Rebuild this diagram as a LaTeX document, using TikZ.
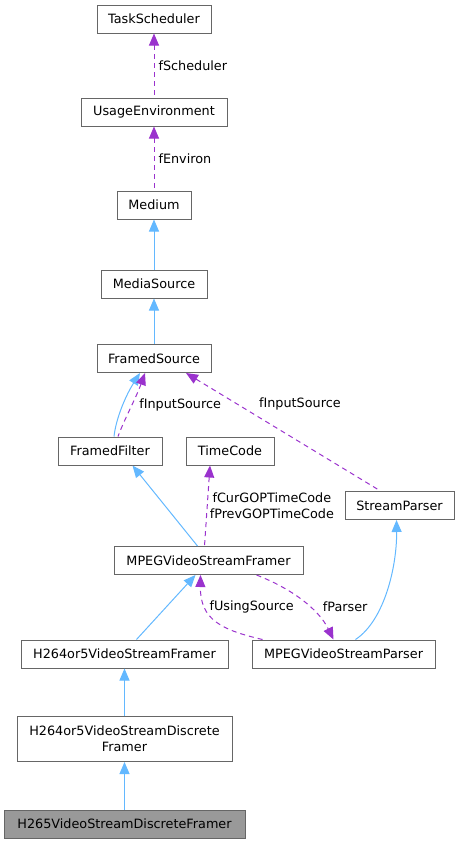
\documentclass[tikz,border=0pt]{standalone}
\usepackage{fontspec}
\setmainfont{DejaVu Sans}
\usetikzlibrary{arrows.meta}
\definecolor{boxline}{HTML}{666666}
\definecolor{basefill}{HTML}{999999}
\definecolor{inhblue}{HTML}{63B8FF}
\definecolor{refpurple}{HTML}{9A32CD}
\begin{document}
\begin{tikzpicture}[x=1pt,y=-1pt,
	font=\fontsize{12.8}{16}\selectfont,
	cls/.style={draw=boxline,fill=white,line width=1pt,minimum height=28pt,inner sep=0pt},
	basecls/.style={cls,fill=basefill},
	bluearr/.style={{Triangle[length=12pt,width=10pt]}-,line width=1pt,inhblue},
	refarr/.style={line width=1pt,refpurple,dash pattern=on 5pt off 4pt},
	reflbl/.style={text=black,inner sep=1pt}]
				%\draw [help lines] (0,0) grid (459,844);
				\useasboundingbox (0,0) rectangle (459,844);
				\node[cls,minimum width=114] (tasksch) at (154,19) {TaskScheduler};
				\node[cls,minimum width=146] (usageenv) at (154,112) {UsageEnvironment};
				\node[cls,minimum width=74] (medium) at (154,205) {Medium};
				\node[cls,minimum width=106] (mediasrc) at (154,284) {MediaSource};
				\node[cls,minimum width=114] (framedsrc) at (154,358.5) {FramedSource};
				\node[cls,minimum width=104] (ffilter) at (110,451) {FramedFilter};
				\node[cls,minimum width=88] (timecode) at (230,451) {TimeCode};
				\node[cls,minimum width=109] (sparser) at (399.5,505.5) {StreamParser};
				\node[cls,minimum width=189] (mpegframer) at (208.5,560.5) {MPEGVideoStreamFramer};
				\node[cls,minimum width=207] (h264framer) at (124.5,654) {H264or5VideoStreamFramer};
				\node[cls,minimum width=183] (mpegparser) at (343.5,654) {MPEGVideoStreamParser};
				\node[cls,minimum width=215,minimum height=45,align=center] (h264disc) at (124.5,739) {H264or5VideoStreamDiscrete\\Framer};
				\node[basecls,minimum width=241] (h265disc) at (124.5,824) {H265VideoStreamDiscreteFramer};
				% references
				\draw[refarr,{Triangle[length=12pt,width=10pt]}-] (tasksch) -- node[reflbl,anchor=west,pos=0.5,xshift=3pt]{fScheduler} (usageenv);
				\draw[refarr,{Triangle[length=12pt,width=10pt]}-] (usageenv) -- node[reflbl,anchor=west,pos=0.5,xshift=3pt]{fEnviron} (medium);
				% inheritance
				\draw[bluearr] (medium) -- (mediasrc);
				\draw[bluearr] (mediasrc) -- (framedsrc);
				\draw[bluearr] ([xshift=-14pt]framedsrc.south) .. controls (126,395) and (116,418) .. ([xshift=4pt]ffilter.north);
				\draw[refarr,{Triangle[length=12pt,width=10pt]}-] ([xshift=-9pt]framedsrc.south) .. controls (136,398) and (124,420) .. ([xshift=8pt]ffilter.north) node[reflbl,pos=0.45,anchor=west,xshift=6pt]{fInputSource};
				\draw[refarr,{Triangle[length=12pt,width=10pt]}-] ([xshift=32pt]framedsrc.south) -- node[reflbl,pos=0.26,anchor=west,xshift=21pt]{fInputSource} ([xshift=-19pt]sparser.north);
				\draw[bluearr] ([xshift=-30pt]ffilter.south east) -- ([xshift=-11pt]mpegframer.north);
				\draw[refarr,{Triangle[length=12pt,width=10pt]}-] ([xshift=-20pt]timecode.south) -- node[reflbl,anchor=west,align=center,pos=0.5,xshift=1pt,font=\fontsize{12.8}{15.5}\selectfont]{fCurGOPTimeCode\\fPrevGOPTimeCode} ([xshift=-4pt]mpegframer.north);
				\draw[bluearr] ([xshift=-13pt]mpegframer.south) -- ([xshift=12pt]h264framer.north);
				\draw[bluearr] ([xshift=-3pt]sparser.south) .. controls (397,565) and (385,620) .. ([xshift=12pt]mpegparser.north);
				\draw[refarr,-{Triangle[length=12pt,width=10pt]}] ([xshift=48pt]mpegframer.south) .. controls (290,588) and (318,608) .. ([xshift=-10pt]mpegparser.north) node[reflbl,pos=0.6,anchor=west,xshift=12pt]{fParser};
				\draw[refarr,-{Triangle[length=12pt,width=10pt]}] ([xshift=-81pt]mpegparser.north) .. controls (222,630) and (200,620) .. ([xshift=-8pt]mpegframer.south) node[reflbl,pos=0.7,anchor=west,xshift=2pt]{fUsingSource};
				\draw[bluearr] (h264framer) -- (h264disc);
				\draw[bluearr] (h264disc) -- (h265disc);
\end{tikzpicture}
\end{document}
